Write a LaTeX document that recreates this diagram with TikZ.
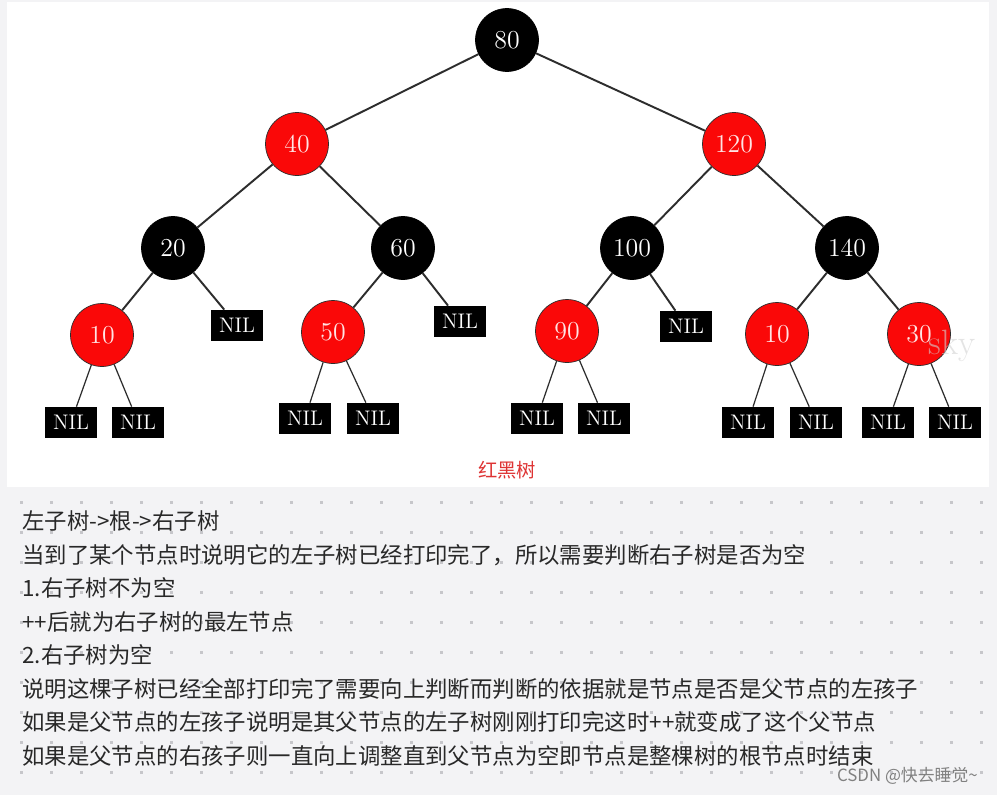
\documentclass[tikz,border=0pt]{standalone}
\usepackage{fontspec}
\newfontfamily\cjk{Noto Sans CJK SC}
\usepackage{xcolor}
\usepackage{tikz}

\definecolor{rbred}{RGB}{250,8,8}
\definecolor{redtext}{RGB}{255,228,228}
\definecolor{edgegray}{RGB}{45,45,45}
\definecolor{panelgray}{RGB}{243,243,245}
\definecolor{dotgray}{RGB}{198,198,202}
\definecolor{textgray}{RGB}{40,40,40}
\definecolor{captionred}{RGB}{222,52,52}

\begin{document}
\begin{tikzpicture}[
    x=0.02cm, y=-0.02cm,
    rednode/.style={circle, draw=edgegray, fill=rbred, minimum size=1.26cm, inner sep=0pt, text=redtext, font=\fontsize{14.7}{16}\selectfont},
    blacknode/.style={circle, draw=black, fill=black, minimum size=1.26cm, inner sep=0pt, text=white, font=\fontsize{14.7}{16}\selectfont},
    nil/.style={draw=black, fill=black, minimum width=1.02cm, minimum height=0.6cm, inner sep=0pt, text=white, font=\fontsize{12}{13}\selectfont},
    link/.style={draw=edgegray, line width=1.1pt},
    nillink/.style={draw=edgegray, line width=0.7pt},
    txtline/.style={anchor=west, inner sep=0pt, text=textgray, font=\cjk\fontsize{12.75}{15}\selectfont}
]
    % Background
    \useasboundingbox (0,0) rectangle (997,795);
    \fill[panelgray] (0,0) rectangle (997,795);
    \fill[white] (7,2) rectangle (989,487);
    \foreach \i in {0,...,32}
        \foreach \j in {0,...,9}
            \fill[dotgray] (20+30*\i,501+30*\j) rectangle ++(2.5,2.5);

    % Tree nodes
    \node[blacknode] (n80) at (507, 40) {80};
    \node[rednode] (n40) at (297, 144) {40};
    \node[rednode] (n120) at (734, 144) {120};
    \node[blacknode] (n20) at (173, 248) {20};
    \node[blacknode] (n60) at (403, 248) {60};
    \node[blacknode] (n100) at (632, 248) {100};
    \node[blacknode] (n140) at (847, 248) {140};
    \node[rednode] (n10a) at (102, 335) {10};
    \node[rednode] (n50) at (333, 332) {50};
    \node[rednode] (n90) at (567, 331) {90};
    \node[rednode] (n10b) at (777, 334) {10};
    \node[rednode] (n30) at (919, 334) {30};

    % NIL leaves
    \node[nil] (nil20) at (237, 325) {NIL};
    \node[nil] (nil60) at (460, 321) {NIL};
    \node[nil] (nil100) at (686, 326) {NIL};
    \node[nil] (nil10al) at (71, 422) {NIL};
    \node[nil] (nil10ar) at (138, 422) {NIL};
    \node[nil] (nil50l) at (305, 418) {NIL};
    \node[nil] (nil50r) at (373, 418) {NIL};
    \node[nil] (nil90l) at (537, 418) {NIL};
    \node[nil] (nil90r) at (604, 418) {NIL};
    \node[nil] (nil10bl) at (748, 422) {NIL};
    \node[nil] (nil10br) at (816, 422) {NIL};
    \node[nil] (nil30l) at (888, 422) {NIL};
    \node[nil] (nil30r) at (955, 422) {NIL};

    % Edges
    \draw[link] (n80) -- (n40);
    \draw[link] (n80) -- (n120);
    \draw[link] (n40) -- (n20);
    \draw[link] (n40) -- (n60);
    \draw[link] (n120) -- (n100);
    \draw[link] (n120) -- (n140);
    \draw[link] (n20) -- (n10a);
    \draw[link] (n20) -- (nil20);
    \draw[link] (n60) -- (n50);
    \draw[link] (n60) -- (nil60);
    \draw[link] (n100) -- (n90);
    \draw[link] (n100) -- (nil100);
    \draw[link] (n140) -- (n10b);
    \draw[link] (n140) -- (n30);
    \draw[nillink] (n10a) -- (nil10al);
    \draw[nillink] (n10a) -- (nil10ar);
    \draw[nillink] (n50) -- (nil50l);
    \draw[nillink] (n50) -- (nil50r);
    \draw[nillink] (n90) -- (nil90l);
    \draw[nillink] (n90) -- (nil90r);
    \draw[nillink] (n10b) -- (nil10bl);
    \draw[nillink] (n10b) -- (nil10br);
    \draw[nillink] (n30) -- (nil30l);
    \draw[nillink] (n30) -- (nil30r);

    % Watermark and caption
    \node[text=gray!35, opacity=0.6, font=\fontsize{20}{22}\selectfont] (wm) at (952, 346) {sky};
    \node[text=captionred, font=\cjk\fontsize{11}{12}\selectfont] (caption) at (507, 470) {红黑树};

    % Notes
    \node[txtline] (l1) at (22, 521) {左子树->根->右子树};
    \node[txtline] (l2) at (22, 555) {当到了某个节点时说明它的左子树已经打印完了，所以需要判断右子树是否为空};
    \node[txtline] (l3) at (22, 588) {1.右子树不为空};
    \node[txtline] (l4) at (22, 622) {++后就为右子树的最左节点};
    \node[txtline] (l5) at (22, 655) {2.右子树为空};
    \node[txtline] (l6) at (22, 689) {说明这棵子树已经全部打印完了需要向上判断而判断的依据就是节点是否是父节点的左孩子};
    \node[txtline] (l7) at (22, 722) {如果是父节点的左孩子说明是其父节点的左子树刚刚打印完这时++就变成了这个父节点};
    \node[txtline] (l8) at (22, 756) {如果是父节点的右孩子则一直向上调整直到父节点为空即节点是整棵树的根节点时结束};
    \node[anchor=east, text=gray, font=\cjk\fontsize{9.6}{11}\selectfont] (csdn) at (984, 776) {CSDN @快去睡觉\textasciitilde};
\end{tikzpicture}
\end{document}
